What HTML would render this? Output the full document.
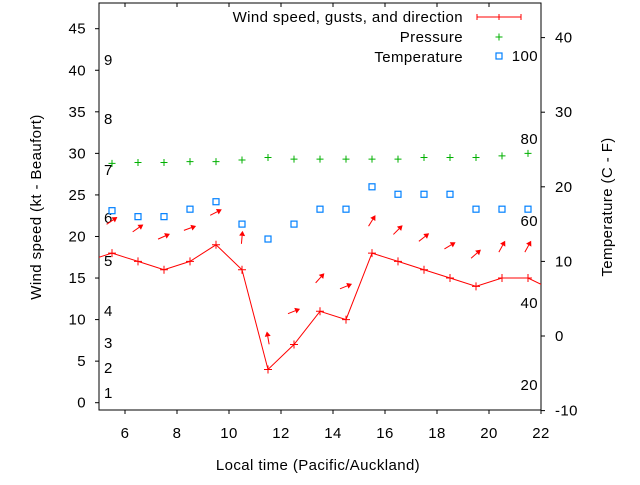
<!DOCTYPE html>
<html><head><meta charset="utf-8"><style>
body{margin:0;background:#fff}
svg text{font-family:"Liberation Sans",sans-serif;font-size:15px;letter-spacing:0.4px;fill:#000}
</style></head><body>
<svg id="c" width="640" height="480" xmlns="http://www.w3.org/2000/svg"></svg>
<script>
const hours=[4.5,5.5,6.5,7.5,8.5,9.5,10.5,11.5,12.5,13.5,14.5,15.5,16.5,17.5,18.5,19.5,20.5,21.5,22.5];
const wind=[17,18,17,16,17,19,16,4,7,11,10,18,17,16,15,14,15,15,13.5];
const gustHours=[5.5,6.5,7.5,8.5,9.5,10.5,11.5,12.5,13.5,14.5,15.5,16.5,17.5,18.5,19.5,20.5,21.5];
const gust=[21.9,21,20,21,22.9,19.9,7.8,11,15,14,21.9,20.8,19.9,18.9,17.9,18.8,18.8];
const dir=[56,55,66,70,63,5,350,68,42,68,32,45,52,59,49,29,29];
const pressure=[28.8,28.9,28.9,29,29,29.2,29.5,29.3,29.3,29.3,29.3,29.3,29.5,29.5,29.5,29.7,30];
const temp=[16.8,16,16,17,18,15,13,15,17,17,20,19,19,19,17,17,17];
const xTicks=[6,8,10,12,14,16,18,20,22];
const yTicks=[0,5,10,15,20,25,30,35,40,45];
const y2Ticks=[-10,0,10,20,30,40];
const beaufort=[["1",393],["2",368],["3",343],["4",311],["5",261],["6",218],["7",170],["8",119],["9",60]];
const fahr=[["20",385],["40",303],["60",221],["80",139],["100",56]];

const L=99,R=541,T=3,B=410;
const X=v=>L+(v-5)/(22-5)*(R-L);
const Y=v=>402.7-v*(402.7-28.7)/45;
const Y2=v=>336-v*7.46;
const svg=document.getElementById('c');
const NS='http://www.w3.org/2000/svg';
function el(tag,attrs,parent){const e=document.createElementNS(NS,tag);for(const k in attrs)e.setAttribute(k,attrs[k]);(parent||svg).appendChild(e);return e;}
function txt(s,x,y,anchor,name,parent){const t=el('text',{x:x,y:y,'text-anchor':anchor||'start'},parent);t.textContent=s;


return t;}

const defs=el('defs',{});const cp=el('clipPath',{id:'pc'},defs);el('rect',{x:L,y:T,width:R-L,height:B-T},cp);

const frame=el('rect',{x:L,y:T,width:R-L,height:B-T,fill:'none',stroke:'#000','stroke-width':1});



xTicks.forEach(v=>{const x=X(v);
 el('line',{x1:x,y1:B,x2:x,y2:B+4,stroke:'#000'});el('line',{x1:x,y1:T,x2:x,y2:T+4,stroke:'#000'});
 txt(String(v),x,438,'middle','x-tick-label');});
yTicks.forEach(v=>{const y=Y(v);el('line',{x1:L-4,y1:y,x2:L,y2:y,stroke:'#000'});txt(String(v),86,y+5,'end','y-tick-label');});
y2Ticks.forEach(v=>{const y=Y2(v);el('line',{x1:R,y1:y,x2:R+4,y2:y,stroke:'#000'});txt(String(v),555,y+5,'start','y2-tick-label');});
beaufort.forEach(b=>txt(b[0],104,b[1]+5,'start','beaufort-label'));
fahr.forEach(f=>txt(f[0],538,f[1]+5,'end','fahrenheit-label'));

const yt=txt('Wind speed (kt - Beaufort)',0,0,'middle','y-axis-title');yt.setAttribute('transform','translate(41,207) rotate(-90)');
const y2t=txt('Temperature (C - F)',0,0,'middle','y2-axis-title');y2t.setAttribute('transform','translate(612,207) rotate(-90)');
txt('Local time (Pacific/Auckland)',318,470,'middle','x-axis-title');

const g=el('g',{'clip-path':'url(#pc)'});
const pts=hours.map((h,i)=>X(h)+','+Y(wind[i])).join(' ');
const pl=el('polyline',{points:pts,fill:'none',stroke:'#f00','stroke-width':1},g);


hours.forEach((h,i)=>{const x=X(h),y=Y(wind[i]);const p=el('path',{d:`M${x-4},${y}h8M${x},${y-4}v8`,stroke:'#f00'},g);

});
gustHours.forEach((h,i)=>{const cx=X(h),cy=Y(gust[i]);const a=dir[i]*Math.PI/180,len=13;
 const dx=Math.sin(a)*len/2,dy=-Math.cos(a)*len/2;
 const x1=cx-dx,y1=cy-dy,x2=cx+dx,y2=cy+dy;
 const ux=(x2-x1)/len,uy=(y2-y1)/len;const hl=5,hw=3;
 const bx=x2-ux*hl,by=y2-uy*hl;
 const ar=el('g',{},g);
 
 
 el('line',{x1:x1,y1:y1,x2:bx,y2:by,stroke:'#f00','stroke-width':1},ar);
 el('polygon',{points:`${x2},${y2} ${bx-uy*hw},${by+ux*hw} ${bx+uy*hw},${by-ux*hw}`,fill:'#f00'},ar);});
gustHours.forEach((h,i)=>{const x=X(h),y=Y(pressure[i]);const p=el('path',{d:`M${x-3.5},${y}h7M${x},${y-3.5}v7`,stroke:'#00b000'},g);

});
gustHours.forEach((h,i)=>{const x=X(h),y=Y2(temp[i]);const r=el('rect',{x:x-3,y:y-3,width:6,height:6,fill:'none',stroke:'#0080ff','stroke-width':1.2},g);

});

const lg=el('g',{});


txt('Wind speed, gusts, and direction',463,22,'end','legend-wind-label',lg);
el('path',{d:'M477,17h44M477,14v6M521,14v6M499,14v6',stroke:'#f00'},lg);
txt('Pressure',463,42,'end','legend-pressure-label',lg);
el('path',{d:'M495.5,37h7M499,33.5v7',stroke:'#00b000'},lg);
txt('Temperature',463,62,'end','legend-temperature-label',lg);
el('rect',{x:496,y:53,width:6,height:6,fill:'none',stroke:'#0080ff','stroke-width':1.2},lg);
</script>
</body></html>
